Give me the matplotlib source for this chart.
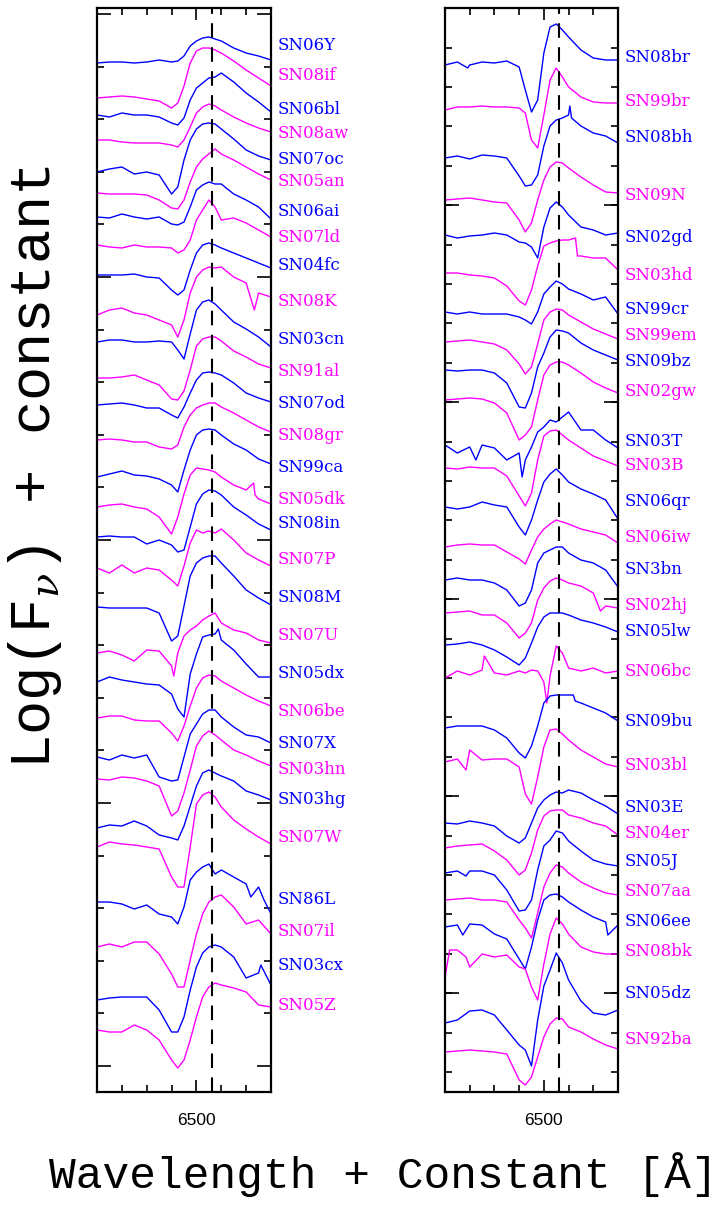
import numpy as np
import matplotlib
matplotlib.use("Agg")
import matplotlib.pyplot as plt
from matplotlib.ticker import FixedLocator, MultipleLocator, NullFormatter
import matplotlib.transforms as mtransforms

# wavelength grid (Angstrom) on which the spectra were read
wave = [6100, 6150, 6200, 6250, 6300, 6350, 6400, 6425, 6450, 6475,
        6500, 6525, 6550, 6575, 6600, 6650, 6700, 6750, 6800]

# ---- left panel ----
names_l = ['SN06Y', 'SN08if', 'SN06bl', 'SN08aw', 'SN07oc', 'SN05an', 'SN06ai', 'SN07ld',
           'SN04fc', 'SN08K', 'SN03cn', 'SN91al', 'SN07od', 'SN08gr', 'SN99ca', 'SN05dk',
           'SN08in', 'SN07P', 'SN08M', 'SN07U', 'SN05dx', 'SN06be', 'SN07X', 'SN03hn',
           'SN03hg', 'SN07W', 'SN86L', 'SN07il', 'SN03cx', 'SN05Z']
offsets_l = [1029, 994, 977, 952, 920, 899, 875, 847, 817, 777, 750, 714, 687, 652, 615,
             585, 555, 524, 485, 439, 410, 374, 335, 313, 264, 245, 190, 145, 92, 62]
label_y_l = [1047, 1017, 982, 959, 932, 911, 881, 854, 826, 790, 753, 720, 689, 656, 625,
             593, 568, 532, 495, 456, 419, 381, 349, 322, 292, 254, 192, 161, 126, 87]
flux_l = [
    [0, 1, 1, 0, 1, 3, 1, 2, 7, 17, 22, 25, 26, 24, 22, 15, 10, 7, 3],
    [0, 1, 2, 1, -1, -3, -10, -5, 12, 35, 47, 50, 50, 48, 45, 37, 28, 20, 12],
    [0, -2, 2, 0, 0, -2, -8, -10, -3, 15, 27, 32, 37, 38, 42, 33, 22, 13, 3],
    [0, 0, -2, -3, -3, -3, -5, -7, 0, 13, 27, 33, 36, 34, 30, 23, 17, 12, 8],
    [0, 3, 5, -2, 0, -3, -22, -15, 12, 32, 43, 48, 49, 48, 43, 33, 22, 16, 12],
    [0, -1, -1, -1, -2, -7, -15, -16, -7, 11, 26, 34, 39, 44, 39, 33, 26, 19, 13],
    [0, -1, 3, 0, -2, 0, -7, -8, -5, 10, 27, 32, 35, 33, 33, 23, 17, 10, -2],
    [0, -2, -3, 0, -2, -2, -3, -8, -5, 5, 25, 35, 45, 38, 25, 27, 22, 15, 8],
    [0, 0, 0, 1, -2, -3, -15, -20, -15, 5, 22, 30, 32, 30, 27, 22, 17, 12, 7],
    [0, 5, 7, 2, 0, -5, -10, -22, -5, 22, 38, 45, 48, 47, 48, 38, 32, 22, 18],
    [0, 2, 2, 0, 0, 1, 0, -8, -17, 8, 32, 40, 42, 38, 32, 20, 13, 5, -5],
    [0, 0, 1, 3, -2, -7, -21, -22, -13, 8, 32, 39, 41, 41, 37, 27, 21, 14, 10],
    [0, 1, 2, 0, -3, -3, -10, -13, -2, 12, 25, 32, 33, 32, 30, 22, 12, 7, 3],
    [0, 1, 0, -2, -2, -7, -9, -5, 13, 25, 32, 35, 37, 37, 33, 27, 20, 13, 8],
    [0, 3, 6, 2, 1, -2, -8, -15, 7, 27, 42, 47, 48, 47, 42, 33, 27, 18, 13],
    [0, 2, 3, 0, -2, -10, -27, -10, 13, 32, 39, 38, 37, 35, 30, 22, 17, 8, 3],
    [0, 1, 0, 0, -7, -3, -8, -15, -13, 10, 33, 43, 47, 46, 42, 30, 22, 13, 7],
    [0, -5, 3, -5, 0, -2, -12, -18, 2, 25, 38, 35, 37, 35, 39, 28, 15, 8, 2],
    [0, -1, -1, -1, -1, -6, -34, -29, 1, 31, 44, 49, 51, 51, 44, 31, 17, 9, 2],
    [0, 2, -2, -8, 3, 2, -13, 0, 17, 23, 27, 33, 37, 40, 30, 23, 20, 13, 10],
    [0, 5, 2, 0, -2, -3, -12, -27, -35, 8, 28, 45, 47, 48, 42, 32, 18, 5, 5],
    [0, 2, 2, -2, -3, -3, -15, -23, -8, 12, 30, 40, 43, 42, 37, 30, 23, 17, 12],
    [0, -3, 2, -1, 2, -20, -24, -23, 0, 23, 33, 43, 47, 47, 40, 30, 22, 20, 14],
    [0, -1, 2, 1, -2, -7, -37, -32, -14, 9, 33, 43, 48, 44, 39, 29, 24, 18, 13],
    [0, 3, 2, 7, 2, -7, -10, -12, 2, 22, 42, 55, 58, 55, 52, 47, 37, 33, 28],
    [0, 5, 3, 2, 0, -2, -30, -40, -40, 0, 43, 52, 55, 50, 40, 27, 18, 10, 3],
    [0, 0, -2, -7, -3, -12, -15, -22, -5, 22, 30, 35, 38, 28, 32, 25, 18, 15, -12],
    [0, 3, 0, 5, 5, -7, -27, -40, -40, -13, 13, 33, 45, 50, 52, 40, 23, 27, 13],
    [0, 2, 3, 3, 3, -10, -32, -32, -17, 10, 33, 47, 53, 55, 53, 43, 22, 27, 15],
    [0, -2, -2, 5, 0, -10, -30, -38, -30, -10, 13, 33, 43, 47, 45, 42, 38, 25, 23],
]

# ---- right panel ----
names_r = ['SN08br', 'SN99br', 'SN08bh', 'SN09N', 'SN02gd', 'SN03hd', 'SN99cr', 'SN99em',
           'SN09bz', 'SN02gw', 'SN03T', 'SN03B', 'SN06qr', 'SN06iw', 'SN3bn', 'SN02hj',
           'SN05lw', 'SN06bc', 'SN09bu', 'SN03bl', 'SN03E', 'SN04er', 'SN05J', 'SN07aa',
           'SN06ee', 'SN08bk', 'SN05dz', 'SN92ba']
offsets_r = [1027, 982, 934, 892, 857, 819, 780, 750, 722, 692, 647, 624, 585, 545,
             512, 479, 447, 414, 364, 330, 269, 244, 219, 192, 165, 115, 69, 40]
label_y_r = [1034, 991, 954, 896, 855, 817, 783, 756, 730, 700, 650, 626, 591, 555,
             522, 487, 460, 420, 370, 327, 284, 259, 231, 201, 170, 140, 98, 52]
flux_r = [
    [0, 3, 0, 3, 2, 4, -2, -25, -47, -35, 12, 38, 41, 35, 28, 15, 7, 5, 5],
    [0, 3, 3, 4, 3, 3, 2, -3, -30, -38, -5, 30, 42, 33, 23, 13, 8, 7, 7],
    [0, 2, -1, 3, 2, 0, -18, -28, -27, -17, 12, 32, 38, 40, 43, 32, 25, 22, 15],
    [0, 1, 2, 0, -2, -3, -20, -32, -23, 0, 20, 33, 38, 37, 32, 23, 15, 8, 7],
    [0, -3, -1, 0, 2, 0, -7, -8, -12, -23, 8, 27, 33, 28, 20, 8, 5, 0, 2],
    [0, 0, -2, -3, -5, -13, -28, -32, -17, 7, 27, 30, 32, 33, 33, 17, 15, 15, 3],
    [0, -2, 0, -2, -2, -2, -5, -8, -12, 0, 18, 25, 31, 28, 23, 18, 12, 15, -2],
    [0, 1, 2, 0, -2, -8, -22, -32, -25, -2, 22, 30, 33, 32, 27, 20, 13, 8, 3],
    [0, -1, 0, 0, -3, -13, -37, -38, -23, 3, 17, 33, 40, 39, 37, 27, 20, 15, 10],
    [0, 1, 2, 1, -3, -13, -40, -35, -27, 0, 25, 35, 38, 38, 35, 27, 18, 12, 7],
    [0, -8, -2, 0, -3, -15, -8, -15, -2, 13, 18, 25, 23, 28, 33, 15, 15, 5, -3],
    [0, -1, 1, 0, 0, -8, -28, -38, -25, 8, 32, 37, 38, 33, 28, 20, 12, 7, 2],
    [0, -2, 0, 5, 2, 0, -20, -28, -13, 7, 25, 33, 38, 32, 25, 18, 13, 7, -12],
    [0, 2, 3, 2, 2, -5, -12, -17, -3, 10, 18, 23, 27, 25, 23, 18, 15, 12, 4],
    [0, 2, 0, 0, -3, -10, -26, -23, -10, 17, 27, 30, 33, 33, 27, 20, 17, 10, -7],
    [0, 1, 2, -2, -2, -10, -25, -20, -10, 13, 25, 32, 35, 33, 30, 27, 20, 7, 5],
    [0, 1, 3, 0, -5, -12, -20, -13, 2, 18, 28, 32, 32, 32, 30, 25, 22, 18, 13],
    [0, 7, 3, 8, 5, 3, 7, 5, 8, 7, -4, 2, 32, 25, 10, 7, 10, 5, 7],
    [0, 2, 2, 2, -2, -10, -25, -30, -18, 2, 25, 32, 33, 33, 33, 25, 20, 15, 7],
    [0, 3, 12, 2, 3, 3, -5, -32, -42, -15, 15, 32, 33, 28, 22, 12, 5, -2, -5],
    [0, -1, 2, 0, -3, -13, -20, -15, 0, 15, 23, 28, 31, 30, 33, 30, 23, 17, 9],
    [0, 2, 3, 4, -3, -12, -27, -22, -5, 18, 32, 37, 38, 38, 33, 30, 25, 22, 13],
    [0, 2, 2, 2, -2, -17, -38, -37, -27, 3, 27, 33, 42, 40, 32, 22, 13, 9, 7],
    [0, 1, 2, 0, 0, -2, -20, -28, -38, -13, 13, 27, 35, 33, 27, 18, 12, 7, 5],
    [0, 2, 3, 2, -7, -12, -32, -42, -20, 7, 27, 32, 33, 30, 25, 17, 10, 5, 2],
    [0, 27, 10, 23, 20, 22, 10, 8, -10, -23, 13, 43, 59, 53, 43, 30, 25, 23, 23],
    [0, 3, 12, 13, 8, -7, -22, -27, -43, 3, 37, 53, 70, 60, 43, 22, 10, 8, 13],
    [0, 1, 2, 1, 0, -2, -28, -33, -25, -5, 15, 28, 34, 33, 25, 20, 13, 7, 3],
]

# sharp features (spikes, dips, steps) read between the grid points: (wavelength, flux)
extra_points = {
    'SN05dk': [(6730, 24), (6736, 12)],
    'SN08K': [(6733, 5)],
    'SN07U': [(6409, -23)],
    'SN05dx': [(6588, 53)],
    'SN86L': [(6719, 5), (6772, 2)],
    'SN03cx': [(6759, 35)],
    'SN08br': [(6192, -3)],
    'SN08bh': [(6605, 52), (6612, 40)],
    'SN03hd': [(6628, 35), (6636, 17)],
    'SN03T': [(6225, -15), (6412, -32)],
    'SN02hj': [(6729, 2)],
    'SN06bc': [(6259, 22), (6512, -25)],
    'SN09bu': [(6619, 33), (6627, 27)],
    'SN03bl': [(6185, -8)],
    'SN05J': [(6185, -3)],
    'SN06ee': [(6172, -8), (6759, -8)],
    'SN08bk': [(6119, 27), (6185, 20)],
}

colors = ['#0000ff', '#ff00ff']
halpha = 6563

fig = plt.figure(figsize=(7.17, 12.05), dpi=100)
ax1 = fig.add_axes([97/717, 113/1205, 174/717, 1084/1205])
ax2 = fig.add_axes([445/717, 113/1205, 173/717, 1084/1205])


def draw_panel(ax, names, offsets, fluxes, label_y, yminor, ymajor):
    trans = mtransforms.blended_transform_factory(ax.transAxes, ax.transData)
    for i, (name, off, fl, ly) in enumerate(zip(names, offsets, fluxes, label_y)):
        c = colors[i % 2]
        pts = sorted(list(zip(wave, fl)) + extra_points.get(name, []))
        w = np.array([p[0] for p in pts])
        f = np.array([p[1] for p in pts])
        ax.plot(w, f + off, color=c, lw=1.0)
        ax.text(1.04, ly, name, transform=trans, color=c, ha='left', va='center',
                fontsize=12, family='DejaVu Serif', clip_on=False)
    ax.axvline(halpha, color='k', lw=1.5, ls=(0, (7, 4.5)))
    ax.set_xlim(6100, 6800)
    ax.set_ylim(0, 1084)
    ax.xaxis.set_major_locator(FixedLocator([6500]))
    ax.xaxis.set_minor_locator(MultipleLocator(100))
    ax.yaxis.set_major_locator(FixedLocator(ymajor))
    ax.yaxis.set_minor_locator(FixedLocator(yminor))
    ax.yaxis.set_major_formatter(NullFormatter())
    ax.tick_params(which='both', direction='in', top=True, right=True, width=1.2)
    ax.tick_params(axis='x', which='major', length=8.5, pad=15, labelsize=12.5)
    ax.tick_params(axis='x', which='minor', length=5)
    ax.tick_params(axis='y', which='major', length=10)
    ax.tick_params(axis='y', which='minor', length=5)
    for lab in ax.get_xticklabels():
        lab.set_family('Liberation Sans')
    for s in ax.spines.values():
        s.set_linewidth(1.6)


draw_panel(ax1, names_l, offsets_l, flux_l, label_y_l,
           np.arange(26, 1084, 52.6), np.arange(26, 1084, 263))
draw_panel(ax2, names_r, offsets_r, flux_r, label_y_r,
           np.arange(20, 1084, 39.4), np.arange(99, 1084, 197))

plt.rcParams['mathtext.fontset'] = 'dejavuserif'
fig.text(35/717, 1 - 467/1205, r'Log(F$_{\nu}$) + constant', rotation=90,
         ha='center', va='center', fontsize=41, family='Liberation Mono')
fig.text(383/717, 1 - 1175/1205, 'Wavelength + Constant [Å]',
         ha='center', va='center', fontsize=32, family='Liberation Mono')

fig.savefig('out.png', dpi=100)
